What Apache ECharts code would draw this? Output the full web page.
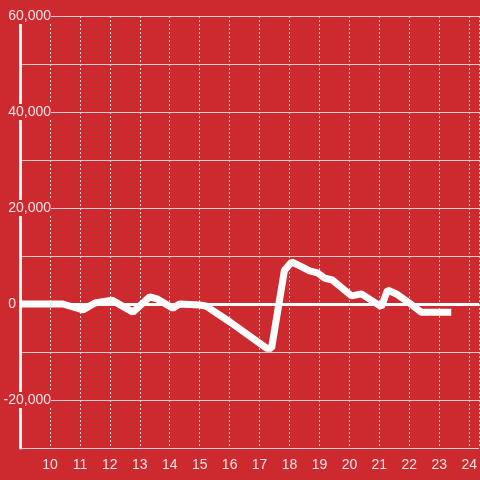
<!DOCTYPE html>
<html>
<head>
<meta charset="utf-8">
<script src="https://cdn.jsdelivr.net/npm/echarts@6/dist/echarts.min.js"></script>
<style>
  html, body { margin: 0; padding: 0; background: #cc2a2f; }
  #chart { width: 480px; height: 480px; }
</style>
</head>
<body>
<div id="chart"></div>
<script>
// hour of day
const hours = [9.0, 10.43, 11.1, 11.5, 12.07, 12.77, 13.33, 13.6, 14.1, 14.33, 15.0, 15.2,
  16.0, 17.23, 17.4, 17.83, 18.07, 18.33, 18.67, 18.93, 19.17, 19.43, 20.07, 20.4,
  21.07, 21.27, 21.57, 22.0, 22.4, 23.4];
const values = [0, 0, -1250, 200, 800, -1700, 1500, 1000, -900, 0, -200, -400,
  -3700, -9200, -9200, 7000, 8750, 8000, 6900, 6500, 5400, 5000, 1700, 2100,
  -600, 2900, 2100, 200, -1700, -1700];

const bg = "#cc2a2f";
const textColor = "#f6e4e4";

const chart = echarts.init(document.getElementById("chart"), null, { renderer: "canvas" });

chart.setOption({
  backgroundColor: bg,
  animation: false,
  grid: { left: 20, right: 0, top: 16, bottom: 32, containLabel: false },
  xAxis: {
    type: "value",
    min: 9,
    max: 24.333,
    interval: 1,
    axisLine: { show: true, lineStyle: { color: "#cccccc", width: 1 } },
    axisTick: { show: false },
    axisLabel: {
      color: textColor,
      fontSize: 14,
      fontFamily: "Liberation Sans",
      margin: 10,
      showMinLabel: false,
      showMaxLabel: false,
    },
    splitLine: { show: true, lineStyle: { color: "#d8d8d8", type: [2, 2], width: 1 } },
  },
  yAxis: {
    type: "value",
    min: -30000,
    max: 60000,
    interval: 10000,
    axisLine: { show: true, lineStyle: { color: "#f2f2f2", width: 3 } },
    axisTick: { show: false },
    axisLabel: {
      color: textColor,
      fontSize: 14,
      fontFamily: "Liberation Sans",
      margin: -31,
      formatter: function (v) {
        if (v % 20000 !== 0) return "";
        if (v === 0) return "{z|0}";
        return "{n|" + v.toLocaleString("en-US") + "}";
      },
      rich: {
        n: { color: textColor, fontSize: 14, backgroundColor: bg, padding: [1, 0, 1, 0] },
        z: { color: textColor, fontSize: 14, padding: [0, 35, 0, 0] },
      },
    },
    splitLine: { show: true, lineStyle: { color: "#cfcfcf", width: 1 } },
  },
  series: [
    {
      type: "line",
      data: hours.map((h, i) => [h, values[i]]),
      showSymbol: false,
      lineStyle: { color: "#ffffff", width: 7 },
      z: 3,
      markLine: {
        silent: true,
        symbol: "none",
        label: { show: false },
        lineStyle: { color: "#ffffff", width: 3, type: "solid" },
        data: [{ yAxis: 0 }],
        z: 2,
      },
    },
  ],
});
</script>
</body>
</html>
